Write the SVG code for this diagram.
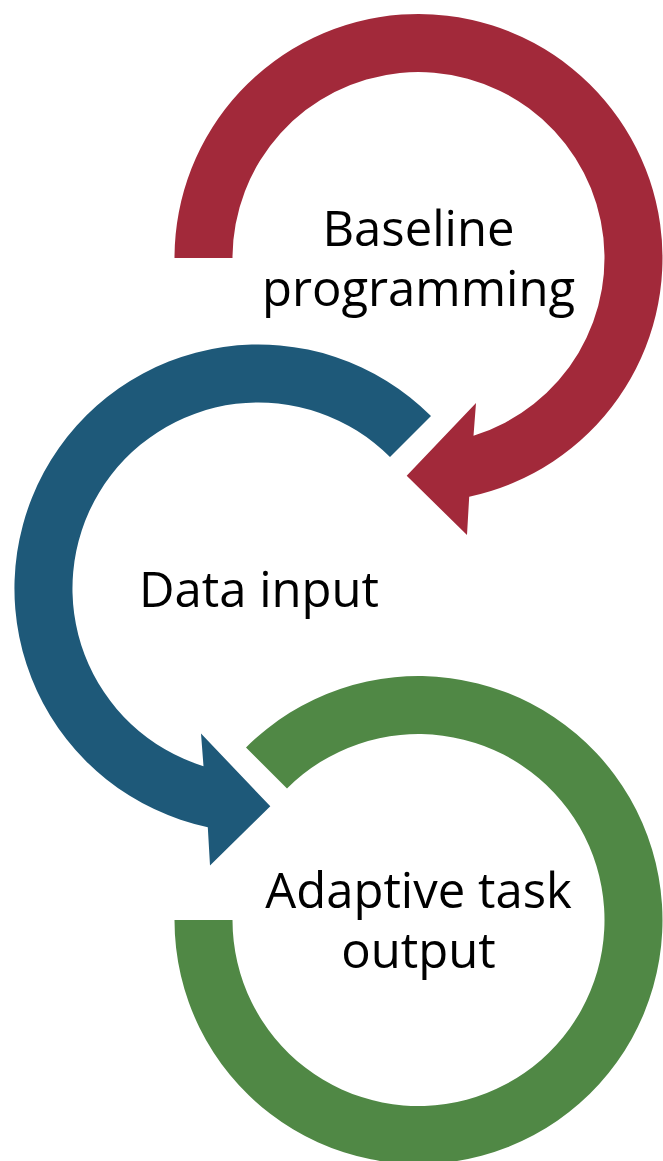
<svg xmlns="http://www.w3.org/2000/svg" width="663" height="1161" viewBox="0 0 663 1161">
<style>
.lbl{font-family:"Open Sans","Noto Sans","Liberation Sans",sans-serif;font-size:49px;fill:#000;text-anchor:middle}
.red{fill:#A2293A}
.blue{fill:#1E5979}
.green{fill:#508845}
</style>
<rect width="663" height="1161" fill="#fff"/>
<g id="connectors">
<path id="arrow-red" class="red" d="M174.5,258 A244,244 0 1 1 469.2,496.7 L467,535 L406.7,475.8 L476,403 L473.5,435.7 A186,186 0 1 0 232.5,258 Z"/>
<path id="arrow-blue" class="blue" d="M431,416 A244,244 0 1 0 207.8,827.2 L210,865.5 L270.3,806.3 L201,733.5 L203.5,766.2 A186,186 0 1 1 390,457 Z"/>
<path id="arrow-green" class="green" d="M246,747.5 A244,244 0 1 1 174.5,920 L232.5,920 A186,186 0 1 0 287,788.5 Z"/>
</g>
<g id="node-baseline">
<text class="lbl" x="418.5" y="246">Baseline</text>
<text class="lbl" x="418.5" y="306">programming</text>
</g>
<g id="node-data">
<text class="lbl" x="259" y="607">Data input</text>
</g>
<g id="node-adaptive">
<text class="lbl" x="418.5" y="908">Adaptive task</text>
<text class="lbl" x="418.5" y="968">output</text>
</g>
</svg>
